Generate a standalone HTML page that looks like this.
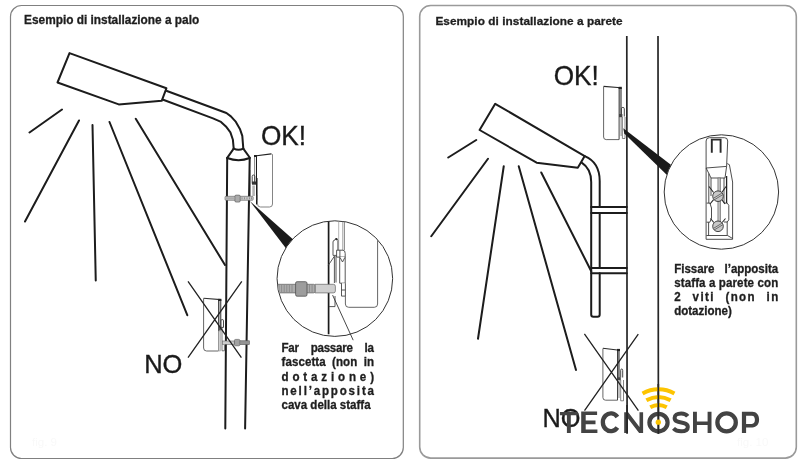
<!DOCTYPE html>
<html><head><meta charset="utf-8">
<style>
html,body{margin:0;padding:0;background:#fff;}
body{width:800px;height:462px;overflow:hidden;position:relative;font-family:"Liberation Sans",sans-serif;}
svg{position:absolute;left:0;top:0;will-change:transform;}
.t{font-family:"Liberation Sans",sans-serif;font-weight:bold;fill:#1e1e1e;stroke:#1e1e1e;stroke-width:0.3;}
.big{font-family:"Liberation Sans",sans-serif;font-weight:normal;fill:#1a1a1a;stroke:#1a1a1a;stroke-width:0.35;}
.k{fill:none;stroke:#1c1c1c;stroke-width:2;stroke-linecap:round;stroke-linejoin:round;}
.g{fill:none;stroke:#555;stroke-width:1;}
</style></head><body>
<svg width="800" height="462" viewBox="0 0 800 462">
<!-- panel borders -->
<rect x="10.5" y="5.5" width="392.8" height="453" rx="11" ry="11" fill="none" stroke="#808080" stroke-width="1.2"/>
<rect x="419.7" y="5.5" width="376.6" height="452.6" rx="11" ry="11" fill="none" stroke="#9a9a9a" stroke-width="1.6"/>

<!-- ============ LEFT PANEL ============ -->
<text class="t" x="24.1" y="23.6" font-size="11.85">Esempio di installazione a palo</text>

<!-- lamp head -->
<polygon class="k" points="69.5,53.1 57.5,82.5 118.75,104.4 161.7,100.8 166.4,88.3"/>
<!-- arm -->
<path class="k" d="M166.9,91 L226.4,113 L230.9,116.4 L235.9,121.9 L239.9,128.9 L242.3,135.9 L243.3,148.6"/>
<path class="k" d="M163.2,99.7 L213,118.4 L221,121.9 L225.9,126.4 L230.4,132.4 L232.9,139.8 L233.7,148.6"/>
<path class="k" d="M233.7,148.6 Q238.5,150.8 243.3,148.6"/>
<path class="k" d="M233.7,148.6 L227.2,157.8 M243.3,148.6 L249.7,157.5"/>
<path class="k" d="M227.2,158 Q238.5,162.4 249.7,158"/>
<!-- pole -->
<path class="k" d="M227.2,158 L225.3,428.6 M249.7,158 L245.1,428.6"/>
<!-- rays -->
<path class="k" d="M29.5,132.5 L62,109.5 M79,120.5 L25,221.5 M92.5,125 L95.75,280.5 M109.5,122 L187.3,315.2 M135.75,118.75 L225,265"/>

<!-- OK device -->
<path d="M257.5,178 V204 Q257.5,207 260.5,207 H269.5 Q272.5,207 272.5,204 V154.5 L271.3,153.9" fill="none" stroke="#777" stroke-width="0.9"/>
<path d="M254.6,156 L271.3,153.9" fill="none" stroke="#222" stroke-width="1.1"/>
<path d="M254.6,155.8 V184" fill="none" stroke="#777" stroke-width="0.9"/>
<path d="M256.5,156 V204.5" fill="none" stroke="#1a1a1a" stroke-width="1"/>
<rect x="254" y="155" width="3" height="2" fill="#222"/>
<!-- bracket (small) -->
<path d="M252.2,183.6 V176.3 Q252.2,175 253.5,175 Q254.8,175 254.8,176.3 V183.6" fill="none" stroke="#333" stroke-width="0.9"/>
<rect x="252" y="181.5" width="4" height="3.2" fill="#333"/>
<rect x="252.3" y="185.5" width="2.6" height="10.5" fill="#b5b5b5"/>
<path d="M250.5,170 V196 M257.2,195 V200" fill="none" stroke="#666" stroke-width="0.7"/>
<!-- bolt -->
<rect x="225" y="196.3" width="28.2" height="4" rx="1" fill="#c8c8c8" stroke="#5a5a5a" stroke-width="0.6"/>
<rect x="234.9" y="195.1" width="5.3" height="7" rx="1.2" fill="#ababab" stroke="#555" stroke-width="0.6"/>
<path d="M227,197.3 v2 M229,197.3 v2 M231,197.3 v2 M233,197.3 v2 M242,197.3 v2 M244.5,197.3 v2 M247,197.3 v2 M249.5,197.3 v2 M251.5,197.3 v2" stroke="#777" stroke-width="0.7"/>
<!-- wedge -->
<polygon points="249.8,201 293.2,239.6 286.1,248.6" fill="#1a1a1a"/>

<!-- magnifier left -->
<defs><clipPath id="cl"><circle cx="334.85" cy="278.6" r="57.3"/></clipPath><clipPath id="cr"><circle cx="721.4" cy="192" r="56.7"/></clipPath></defs>
<circle cx="334.85" cy="278.6" r="57.8" fill="#fff" stroke="#333" stroke-width="1"/>
<g clip-path="url(#cl)">
<path d="M328.6,215 V334.2" stroke="#1a1a1a" stroke-width="1.7"/>
<path d="M338.7,215 V250.2 M342.6,215 V250.2" stroke="#a0a0a0" stroke-width="0.8" fill="none"/>
<path d="M344.3,215 V250.2" stroke="#666" stroke-width="0.9" fill="none"/>
<path d="M377.6,230 V304 Q377.6,307.3 374.3,307.3 H348.7 Q345.4,307.3 345.4,304 V296.1" stroke="#555" stroke-width="0.9" fill="none"/>
<g fill="#fff" stroke="#444" stroke-width="0.9">
<path d="M333,255.4 V242 Q333,240.2 334.8,240.2 L335.5,238.6 L337,238.6 L337.9,240.5 V255.4 Z"/>
<path d="M336.6,250.2 H343 Q345.2,250.2 345.2,253.5 V257.1 H336.6 Z"/>
<path d="M339.9,250.2 V257.1"/>
<path d="M339.7,257.1 V283.2 H345.2 V257.1 M340,257.4 L342.5,262 L344.9,257.4"/>
<path d="M341.5,283.2 V296.1 H345.4 V283.2 M341.5,290 H345.4"/>
<path d="M328.3,265.3 L334.4,256.2 V283 M336,256 V282.5" fill="none"/>
<path d="M335,296 V306.6 H329" fill="none"/>
</g>
<path d="M335.8,240 L336.8,238.3" stroke="#222" stroke-width="1.6"/>
</g>
<!-- big bolt -->
<g clip-path="url(#cl)">
<path d="M315,284.3 H333.4 Q335.4,284.3 335.4,286.3 V290.9 Q335.4,292.9 333.4,292.9 H315 Z" fill="#cfcfcf" stroke="#666" stroke-width="0.7"/>
<rect x="270" y="284.3" width="45" height="8.6" rx="1.5" fill="#acacac" stroke="#606060" stroke-width="0.7"/>
<path d="M279,284.5 v8.2 M281.6,284.5 v8.2 M284.2,284.5 v8.2 M286.8,284.5 v8.2 M289.4,284.5 v8.2 M292,284.5 v8.2 M309.5,284.5 v8.2 M312.1,284.5 v8.2" stroke="#8a8a8a" stroke-width="0.9"/>
<rect x="295.6" y="281.7" width="11.4" height="14.5" rx="1.5" fill="#9d9d9d" stroke="#505050" stroke-width="0.8"/>
</g>
<!-- pointer line -->
<path d="M332.6,295.1 L353.2,340.2" stroke="#333" stroke-width="0.9" fill="none"/>

<!-- left text block -->
<g class="t" font-size="11.55">
<text x="281.5" y="352.1" transform="matrix(1,0,0,1.05,0,-17.605)" textLength="92.5" lengthAdjust="spacing" word-spacing="9">Far passare la</text>
<text x="281.5" y="366.3" transform="matrix(1,0,0,1.05,0,-18.315)" textLength="92.5" lengthAdjust="spacing" word-spacing="3">fascetta (non in</text>
<text x="281.5" y="380.6" transform="matrix(1,0,0,1.05,0,-19.030)" textLength="92.5" lengthAdjust="spacing">dotazione)</text>
<text x="281.5" y="394.9" transform="matrix(1,0,0,1.05,0,-19.745)" textLength="92.5" lengthAdjust="spacing">nell’apposita</text>
<text x="281.5" y="409.1" transform="matrix(1,0,0,1.05,0,-20.455)">cava della staffa</text>
</g>

<!-- NO device left -->
<path d="M203.6,298.4 V348 Q203.6,351 206.6,351 H218.2" fill="none" stroke="#555" stroke-width="0.9"/>
<path d="M203.6,298.2 L220.8,299.6" fill="none" stroke="#333" stroke-width="1.1"/>
<rect x="218.6" y="300" width="2.2" height="27" fill="#bdbdbd"/>
<path d="M218.6,300 V351 M220.8,299.6 V327" fill="none" stroke="#2a2a2a" stroke-width="0.9"/>
<rect x="218.2" y="298.8" width="3.2" height="2.2" fill="#222"/>
<path d="M221,327.4 V320.8 Q221,319.5 222.2,319.5 Q223.5,319.5 223.5,320.8 V327.4 Z" fill="#fff" stroke="#333" stroke-width="0.9"/>
<rect x="218.3" y="327" width="2.6" height="3.6" fill="#555"/>
<rect x="218.3" y="331" width="2" height="20" fill="#cfcfcf" stroke="#888" stroke-width="0.5"/>
<path d="M222,327.4 V350.8 H224.4 V345" fill="none" stroke="#555" stroke-width="0.8"/>
<rect x="222.5" y="341" width="12" height="3.3" fill="#cdcdcd" stroke="#666" stroke-width="0.6"/>
<rect x="239.8" y="340.8" width="9.6" height="3.8" fill="#a8a8a8" stroke="#555" stroke-width="0.6"/>
<path d="M242,341 v3.4 M244,341 v3.4 M246,341 v3.4 M248,341 v3.4" stroke="#666" stroke-width="0.6"/>
<rect x="234.4" y="339.4" width="5.5" height="6.4" rx="1.2" fill="#a2a2a2" stroke="#555" stroke-width="0.6"/>
<!-- X cross left -->
<path d="M188,281.3 L241.4,357.7 M241.8,281.3 L188,357.7" stroke="#222" stroke-width="1.3" fill="none"/>
<text class="big" x="144.2" y="373.5" font-size="25.5" transform="translate(0,373.5) scale(1,1.035) translate(0,-373.5)">NO</text>
<text class="big" x="260.9" y="144.9" font-size="26.2" transform="translate(0,144.9) scale(1,1.075) translate(0,-144.9)">OK!</text>

<text x="32" y="446" font-size="11.5" fill="#f9f9f9" font-family="Liberation Sans">fig. 9</text>

<!-- ============ RIGHT PANEL ============ -->
<text class="t" x="435.4" y="25.4" font-size="11.8" textLength="187.2" lengthAdjust="spacing" transform="translate(0,0.001)">Esempio di installazione a parete</text>
<text class="big" x="553.7" y="85" font-size="26.2" transform="translate(0,85) scale(1,1.065) translate(0,-85)">OK!</text>

<!-- wall -->
<path d="M626.8,36 L627.1,433.6 M658,36 L658.4,433.8" stroke="#262626" stroke-width="1.7" fill="none"/>

<!-- lamp head right -->
<polygon class="k" points="495.2,103.8 479.6,130 536.6,162.7 577.8,167.7 584.7,156.1"/>
<path class="k" d="M584.7,156.1 C594,160 599.7,168 599.7,181 L599.7,206.9 M599.7,213.1 L599.7,267.9 M599.7,273.2 L599.7,314.5 Q599.7,316.7 597.5,316.7 L593.4,316.7 Q591.2,316.7 591.2,314.5 L591.2,182 C591.2,174 587.5,166.5 581.7,162.7"/>
<path class="k" d="M591.2,206.9 L626.8,206.9 M591.2,213.1 L626.8,213.1 M591.2,267.9 L626.8,267.9 M591.2,273.2 L626.8,273.2"/>
<!-- rays right -->
<path class="k" d="M448.25,157.5 L476.25,140 M488,158.75 L431.25,236.25 M503.75,166.25 L478,338.75 M518.75,166.25 L576,370 M541.25,172.5 L591.25,271.25"/>

<!-- OK device right -->
<path d="M603.6,86.6 V137 Q603.6,139.6 606.2,139.6 H619" fill="none" stroke="#555" stroke-width="0.9"/>
<path d="M603.6,86.4 L621,87.8" fill="none" stroke="#2a2a2a" stroke-width="1.1"/>
<rect x="619" y="88" width="2" height="26" fill="#bdbdbd"/>
<path d="M619.1,88 V139.6 M621.1,87.8 V114" fill="none" stroke="#2a2a2a" stroke-width="0.9"/>
<rect x="618.6" y="86.8" width="3.2" height="2.2" fill="#222"/>
<path d="M621.4,116.5 V108.7 Q621.4,107.4 622.85,107.4 Q624.3,107.4 624.3,108.7 V116.5" fill="none" stroke="#333" stroke-width="0.9"/>
<rect x="619" y="114" width="3.4" height="3.2" fill="#444"/>
<path d="M622.4,117 V138.5 H625 V117 M621.1,117 V136" fill="none" stroke="#666" stroke-width="0.8"/>
<polygon points="623.3,128.3 671.5,165.3 667.2,175.2 624.3,133.5" fill="#1a1a1a"/>

<!-- magnifier right -->
<circle cx="721.4" cy="192" r="57.2" fill="#fff" stroke="#333" stroke-width="1"/>
<g fill="none" stroke="#3a3a3a" stroke-width="0.9">
<path d="M706.1,168 L706.1,141 Q706.1,137.7 709.4,137.7 L724.5,137.7 Q727.7,137.7 727.7,141 L726.6,166.4 Z" fill="#fff"/>
<path d="M706.1,168 L708.8,173.4 L711,178 H725 L726.6,166.4"/>
<path d="M706.1,168 V239.3 H732.6 V182 L729.4,164.7 L727.2,163.6"/>
<path d="M708.8,173.4 V203.1 M711,178 V196 M724,178 V203.1"/>
<path d="M724,203.1 H727.2 L728.8,205.3 V219.9 L727.2,222 H724"/>
<path d="M706.6,203.1 H709.9 L711.5,208 V218 L709.9,222.2 H706.6"/>
<path d="M708.6,222.2 V236 M706.4,235.5 H727.5 L732.6,238.5 M727.2,222 V235.5"/>
<path d="M713.6,192.5 L709,186.5 M721.8,192.5 L726,186.5 M713.6,199.7 L710,204 M721.8,199.7 L725,204 M713.8,222.5 L710.5,218.5 M722.2,222.5 L725.5,218.5" stroke="#2a2a2a" stroke-width="1.1"/>
</g>
<path d="M726.6,176 V203" stroke="#222" stroke-width="1.3"/>
<path d="M711.8,152.8 V139.6 H720.6 V152.8" fill="none" stroke="#2a2a2a" stroke-width="1.9"/>
<rect x="717.9" y="178" width="2.8" height="44" fill="#bdbdbd" stroke="#666" stroke-width="0.6"/>
<circle cx="718" cy="196.2" r="5.3" fill="#c9c9c9" stroke="#333" stroke-width="0.9"/>
<circle cx="718" cy="226.3" r="5.3" fill="#c9c9c9" stroke="#333" stroke-width="0.9"/>
<path d="M713.6,198.2 L721.8,193.2 M714.3,199.8 L722.5,194.8 M713.6,228.3 L721.8,223.3 M714.3,229.9 L722.5,224.9" stroke="#444" stroke-width="0.7"/>

<!-- right text block -->
<g class="t" font-size="11.55">
<text x="674.2" y="272.7" transform="matrix(1,0,0,1.05,0,-13.635)" textLength="104" lengthAdjust="spacing" word-spacing="7">Fissare l’apposita</text>
<text x="674.2" y="287.2" transform="matrix(1,0,0,1.05,0,-14.360)" textLength="104" lengthAdjust="spacing">staffa a parete con</text>
<text x="674.2" y="301" transform="matrix(1,0,0,1.05,0,-15.050)" textLength="104" lengthAdjust="spacing" word-spacing="6">2 viti (non in</text>
<text x="674.2" y="314.8" transform="matrix(1,0,0,1.05,0,-15.740)">dotazione)</text>
</g>

<!-- NO device right -->
<path d="M602.9,348.6 V397.5 Q602.9,400.2 605.6,400.2 H617.5" fill="none" stroke="#555" stroke-width="0.9"/>
<path d="M602.9,348.2 L619.4,350.2" fill="none" stroke="#2a2a2a" stroke-width="1.1"/>
<rect x="617.5" y="350.5" width="1.9" height="29" fill="#bdbdbd"/>
<path d="M617.5,350.5 V400.2 M619,350.2 V379.5" fill="none" stroke="#2a2a2a" stroke-width="0.9"/>
<rect x="617" y="348.9" width="3" height="2.2" fill="#222"/>
<path d="M620.7,377.5 V370.3 Q620.7,369 621.7,369 Q622.7,369 622.7,370.3 V377.5" fill="none" stroke="#333" stroke-width="0.9"/>
<rect x="617.4" y="377.3" width="3.4" height="3" fill="#444"/>
<path d="M620.7,380 V400.8 H623.5 V380 M619,380.5 V398" fill="none" stroke="#666" stroke-width="0.8"/>
<path d="M584.4,333.8 L638.4,410.7 M638.3,334.2 L584.5,410.7" stroke="#222" stroke-width="1.3" fill="none"/>

<text class="big" x="542.4" y="426.6" font-size="25.3" fill="#1a1a1a">NO</text>
<!-- logo -->
<g fill="#434343">
<path d="M559.9,411.9 H577.9 V415.3 H570.8 V432.9 H566.9 V415.3 H559.9 Z"/>
<path d="M581.2,411.5 H597.1 V415.1 H585.7 V420.6 H595.5 V424.2 H585.7 V429.4 H597.4 V433 H581.2 Z"/>
<path d="M624.2,433 V412.2 H628.2 L639.5,427 V412.2 H643.1 V433 H639.1 L627.8,418.2 V433 Z"/>
<path d="M693,411.8 H696.9 V421.5 H707.6 V411.8 H711.5 V432.9 H707.6 V425.1 H696.9 V432.9 H693 Z"/>
<path fill-rule="evenodd" d="M741.9,432.9 V411.8 H752.3 C756.5,411.8 759.1,414.9 759.1,419.6 C759.1,424.3 756.5,427.4 752.3,427.4 H746.1 V432.9 Z M746.1,415.7 V423.9 H751.8 C753.9,423.9 754.9,422.3 754.9,419.8 C754.9,417.3 753.9,415.7 751.8,415.7 Z"/>
</g>
<g fill="none" stroke="#434343">
<path d="M617.4,417 A8.05,8.9 0 1 0 617.4,427.5" stroke-width="4.3"/>
<ellipse cx="658.5" cy="422.55" rx="9.1" ry="8.75" stroke-width="4.2"/>
<path d="M687.7,416.3 C686.3,414.4 683.9,413.5 681.2,413.5 C677.1,413.5 674.6,415.3 674.6,417.9 C674.6,424.6 687.8,420.4 687.8,426.9 C687.8,429.6 685.3,431.3 681.1,431.3 C677.8,431.3 675.1,430.2 673.5,428.4" stroke-width="4"/>
<ellipse cx="726.6" cy="422.4" rx="9.2" ry="8.95" stroke-width="4.3"/>
</g>
<g fill="none" stroke="#fdc400" stroke-width="4">
<path d="M642.55,393.42 A32.9,32.9 0 0 1 674.45,393.42"/>
<path d="M646.38,400.33 A25,25 0 0 1 670.62,400.33"/>
<path d="M650.26,407.33 A17,17 0 0 1 666.74,407.33"/>
</g>
<path d="M658.3,384 L658.4,433.8 M627.05,405 L627.1,433.6" stroke="#262626" stroke-width="1.7" fill="none"/>
<circle cx="658.3" cy="422.2" r="2.65" fill="#fdc400"/>
<text x="737" y="446" font-size="11.5" fill="#f9f9f9" font-family="Liberation Sans">fig. 10</text>
</svg>
</body></html>
